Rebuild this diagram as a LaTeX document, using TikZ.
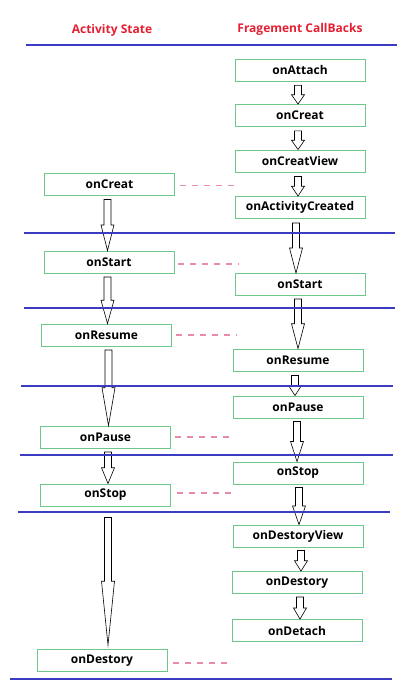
\documentclass[tikz,border=0pt]{standalone}
\usepackage{fontspec}
\setmainfont{Open Sans}
\usetikzlibrary{calc}
\definecolor{boxgreen}{RGB}{110, 200, 140}
\definecolor{linkpink}{RGB}{232, 140, 165}
\definecolor{sepblue}{RGB}{60, 60, 195}
\definecolor{titlered}{RGB}{230, 30, 50}

\begin{document}
\begin{tikzpicture}[
  x=1pt, y=-1pt,
  cb/.style={draw=boxgreen, fill=white, line width=0.9pt,
             minimum width=130pt, minimum height=22pt, inner sep=0pt,
             font=\bfseries\fontsize{12}{14}\selectfont},
  title/.style={text=titlered, font=\bfseries\fontsize{12}{14}\selectfont},
  sep/.style={draw=sepblue, line width=2pt},
  link/.style={draw=linkpink, line width=1.4pt, dash pattern=on 6pt off 6pt},
  hollow/.style={draw=black, fill=white, line width=0.6pt, line join=miter,
    to path={let \p1=(\tikztostart), \p2=(\tikztotarget),
                 \n1={(\y2-\y1)/2} in
      (\x1-3.5pt,\y1) -- (\x1+3.5pt,\y1) -- (\x1+3.5pt,\y1+\n1)
      -- (\x1+6.5pt,\y1+\n1) -- (\x1,\y2) -- (\x1-6.5pt,\y1+\n1)
      -- (\x1-3.5pt,\y1+\n1) -- cycle}}
]
  \useasboundingbox (0,0) rectangle (417,695);

  % column titles
  \node[title] (tact)  at (112, 30) {Activity State};
  \node[title] (tfrag) at (300, 29) {Fragement CallBacks};

  % fragment callbacks
  \node[cb] (fattach) at (300, 70)    {onAttach};
  \node[cb] (fcreat)  at (300, 115.5) {onCreat};
  \node[cb] (fview)   at (300, 161)   {onCreatView};
  \node[cb] (factc)   at (300, 207.5) {onActivityCreated};
  \node[cb] (fstart)  at (300, 284.5) {onStart};
  \node[cb] (fresume) at (298, 360)   {onResume};
  \node[cb] (fpause)  at (298, 407)   {onPause};
  \node[cb] (fstop)   at (298, 473)   {onStop};
  \node[cb] (fdview)  at (298, 536)   {onDestoryView};
  \node[cb] (fdest)   at (297, 582.5) {onDestory};
  \node[cb] (fdetach) at (297, 630.5) {onDetach};

  % activity states
  \node[cb] (acreat)  at (109.5, 184.5) {onCreat};
  \node[cb] (astart)  at (109,   262)   {onStart};
  \node[cb] (aresume) at (106.5, 335)   {onResume};
  \node[cb] (apause)  at (105.5, 437)   {onPause};
  \node[cb] (astop)   at (105.5, 495)   {onStop};
  \node[cb] (adest)   at (102,   660.5) {onDestory};

  % activity arrows
  \draw[hollow] ([xshift=-2pt,yshift=-3.5pt]acreat.south) to (astart.north);
  \draw[hollow] ([xshift=-1.5pt,yshift=-3.5pt]astart.south) to (aresume.north);
  \draw[hollow] ([xshift=2pt,yshift=-3.5pt]aresume.south) to (apause.north);
  \draw[hollow] ([xshift=2.5pt,yshift=-3.5pt]apause.south) to (astop.north);
  \draw[hollow] ([xshift=2.5pt,yshift=-11pt]astop.south) to ([yshift=4pt]adest.north);

  % fragment arrows
  \draw[hollow] ([xshift=-2pt,yshift=-4pt]fattach.south) to (fcreat.north);
  \draw[hollow] ([xshift=-2pt,yshift=-4pt]fcreat.south) to (fview.north);
  \draw[hollow] ([xshift=-2pt,yshift=-4pt]fview.south) to (factc.north);
  \draw[hollow] ([xshift=-4pt,yshift=-4pt]factc.south) to (fstart.north);
  \draw[hollow] ([xshift=-2pt,yshift=-3pt]fstart.south) to (fresume.north);
  \draw[hollow] ([xshift=-3pt,yshift=-4pt]fresume.south) to (fpause.north);
  \draw[hollow] ([xshift=-1pt,yshift=-3pt]fpause.south) to (fstop.north);
  \draw[hollow] ([xshift=1pt,yshift=-3pt]fstop.south) to (fdview.north);
  \draw[hollow] ([xshift=3pt,yshift=-3pt]fdview.south) to (fdest.north);
  \draw[hollow] ([xshift=3pt,yshift=-3pt]fdest.south) to (fdetach.north);

  % dashed links
  \draw[link] ([xshift=5pt,yshift=-1pt]acreat.east)  -- ++(60,0);
  \draw[link] ([xshift=4pt,yshift=-2pt]astart.east)  -- ++(61,0);
  \draw[link] ([xshift=4pt]aresume.east) -- ++(61,0);
  \draw[link] ([xshift=4pt]apause.east)  -- ++(60,0);
  \draw[link] ([xshift=6pt,yshift=2pt]astop.east)   -- ++(60,0);
  \draw[link] ([xshift=6pt,yshift=-2.5pt]adest.east)   -- ++(60,0);

  % separators
  \draw[sep] (26,45)  -- (397,45);
  \draw[sep] (24,233) -- (395,233);
  \draw[sep] (24,307.5) -- (395,307.5);
  \draw[sep] (21,386) -- (393,386);
  \draw[sep] (20,455) -- (393,455);
  \draw[sep] (18,512) -- (390,512);
  \draw[sep] (10,679) -- (392,679);
\end{tikzpicture}
\end{document}
